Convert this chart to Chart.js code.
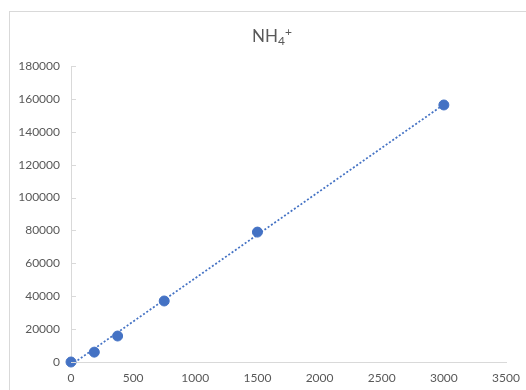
<!DOCTYPE html>
<html>
<head>
<meta charset="utf-8">
<script src="https://cdn.jsdelivr.net/npm/chart.js@4"></script>
<style>
  html, body { margin: 0; padding: 0; background: #fff; overflow: hidden; }
  #frame { position: absolute; left: 9px; top: 11px; width: 700px; height: 500px; border: 1px solid #d9d9d9; }
  #wrap { position: absolute; left: 0; top: 0; width: 526px; height: 390px; }
</style>
</head>
<body>
<div id="frame"></div>
<div id="wrap"><canvas id="chart" width="526" height="390"></canvas></div>
<script>
// concentration vs. peak area
const concentrations = [0, 187.5, 375, 750, 1500, 3000];
const areas = [0, 6000, 15800, 37100, 79000, 156300];

// linear trendline, end points as drawn
const trendX = [0, 3000];
const trendY = [-1800, 156600];

const titleMain = 'NH';
const titleSub = '4';
const titleSup = '+';

const blue = '#4472C4';
const grey = '#595959';
const axisGrey = '#d9d9d9';
const font = 'Lato, "Liberation Sans", sans-serif';

// Excel-like title with sub/superscript
const titlePlugin = {
    id: 'nhTitle',
    afterDraw(chart) {
        const ctx = chart.ctx;
        ctx.save();
        ctx.fillStyle = grey;
        ctx.textBaseline = 'alphabetic';
        ctx.font = '17px ' + font;
        const wMain = ctx.measureText(titleMain).width;
        ctx.font = '12px ' + font;
        const wSub = ctx.measureText(titleSub).width;
        const wSup = ctx.measureText(titleSup).width;
        const total = wMain + wSub + wSup;
        let x = 272 - total / 2;
        ctx.textAlign = 'left';
        ctx.font = '17px ' + font;
        ctx.fillText(titleMain, x, 42);
        x += wMain;
        ctx.font = '12px ' + font;
        ctx.fillText(titleSub, x, 45);
        x += wSub;
        ctx.fillText(titleSup, x, 36);
        ctx.restore();
    }
};

// small tick marks on the right of the value axis
const yTicksPlugin = {
    id: 'yTicks',
    afterDatasetsDraw(chart) {
        const ctx = chart.ctx;
        const y = chart.scales.y;
        ctx.save();
        ctx.strokeStyle = axisGrey;
        ctx.lineWidth = 1;
        y.ticks.forEach(t => {
            const py = Math.round(y.getPixelForValue(t.value)) + 0.5;
            ctx.beginPath();
            ctx.moveTo(y.right, py);
            ctx.lineTo(y.right + 5, py);
            ctx.stroke();
        });
        ctx.restore();
    }
};

const ctx = document.getElementById('chart').getContext('2d');
new Chart(ctx, {
    type: 'scatter',
    data: {
        datasets: [{
            label: 'NH4+',
            data: concentrations.map((c, i) => ({ x: c, y: areas[i] })),
            backgroundColor: blue,
            borderColor: blue,
            pointRadius: 5,
            pointHoverRadius: 5,
            clip: false,
            order: 1
        }, {
            label: 'Linear',
            type: 'line',
            data: trendX.map((c, i) => ({ x: c, y: trendY[i] })),
            borderColor: blue,
            borderWidth: 1.75,
            borderDash: [2, 2],
            pointRadius: 0,
            fill: false,
            order: 2
        }]
    },
    options: {
        responsive: false,
        animation: false,
        events: [],
        layout: {
            padding: { left: 0, right: 20, top: 66, bottom: 0 }
        },
        plugins: {
            legend: { display: false },
            title: { display: false },
            tooltip: { enabled: false }
        },
        scales: {
            x: {
                type: 'linear',
                min: 0,
                max: 3500,
                grid: { display: false, drawTicks: false },
                border: { display: true, color: axisGrey, width: 1 },
                ticks: {
                    stepSize: 500,
                    padding: 9,
                    maxRotation: 0,
                    color: grey,
                    font: { family: font, size: 12 },
                    callback: v => String(v)
                },
                afterFit(scale) {
                    scale.height = 28;
                    scale.paddingLeft = 0;
                    scale.paddingRight = 0;
                }
            },
            y: {
                min: 0,
                max: 180000,
                grid: { display: false, drawTicks: false },
                border: { display: true, color: axisGrey, width: 1 },
                ticks: {
                    stepSize: 20000,
                    padding: 11,
                    color: grey,
                    font: { family: font, size: 12 },
                    callback: v => String(v)
                },
                afterFit(scale) { scale.width = 71; }
            }
        }
    },
    plugins: [titlePlugin, yTicksPlugin]
});
</script>
</body>
</html>
